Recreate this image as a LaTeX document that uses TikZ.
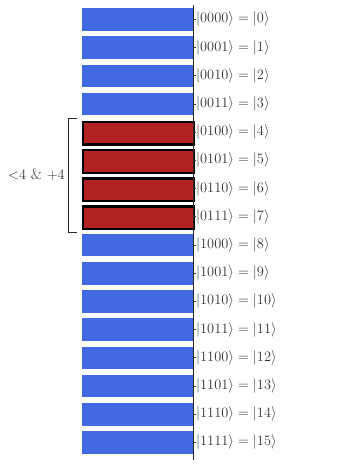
\documentclass[tikz,border=0pt]{standalone}
\usepackage{amsmath}
\usetikzlibrary{positioning}
\definecolor{stateblue}{HTML}{4169E1}
\definecolor{markred}{HTML}{B22222}
\definecolor{ink}{HTML}{333333}
\tikzset{
  basis/.style={fill=stateblue,minimum width=111pt,minimum height=22.5pt,inner sep=0pt,anchor=north west},
  marked/.style={basis,fill=markred,draw=black,line width=2.4pt},
  ket/.style={anchor=west,inner sep=0pt,text=ink,font=\fontsize{15.5}{18}\selectfont},
  ytick/.style={draw=ink,line width=.6pt},
  axis/.style={draw=black!85,line width=.8pt},
  bracket/.style={draw=black!85,line width=.8pt}
}
\begin{document}
\begin{tikzpicture}[x=1pt,y=-1pt]
  \useasboundingbox (0,0) rectangle (359,464);
  % one bar and one ket per basis state
  \foreach \b/\s [count=\i from 0] in {0000/basis,0001/basis,0010/basis,0011/basis,
      0100/marked,0101/marked,0110/marked,0111/marked,1000/basis,1001/basis,1010/basis,
      1011/basis,1100/basis,1101/basis,1110/basis,1111/basis}{
    \node[\s] (bar\i) at (82,{8+28.2*\i}) {};
    \node[ket] (ket\i) at (196,{19.25+28.2*\i}) {$|\b\rangle = |\i\rangle$};
  }
  \coordinate (top) at (193,5);
  \coordinate (bot) at (193,460);
  \draw[axis] (top) -- (bot);
  \foreach \i in {0,...,15}{\draw[ytick] (ket\i.west) -- ++(-3,0);}
  % bracket for the marked states
  \coordinate (brtop) at (77,118.5);
  \coordinate (brbot) at (77,232);
  \coordinate (brmid) at (68,175);
  \draw[bracket] (brtop) -- ++(-9,0) |- (brbot);
  \node[ket,anchor=east,left=3pt of brmid] (cond) {${<}4$ \& ${+}4$};
\end{tikzpicture}
\end{document}
